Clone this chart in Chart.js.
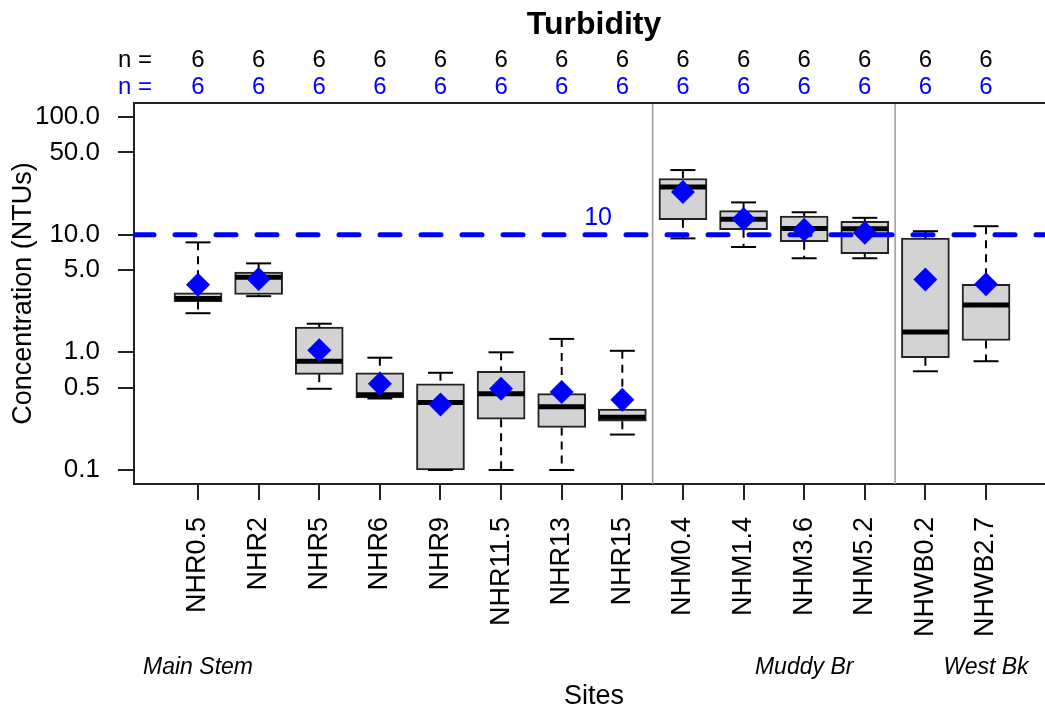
<!DOCTYPE html>
<html>
<head>
<meta charset="utf-8">
<script src="https://cdn.jsdelivr.net/npm/chart.js@4"></script>
<style>
  html, body { margin: 0; padding: 0; background: #fff; overflow: hidden; }
  #turbChart { display: block; }
</style>
</head>
<body>
<canvas id="turbChart" width="1045" height="711"></canvas>
<script>
// sites and the box statistics (NTU)
const sites = ['NHR0.5', 'NHR2', 'NHR5', 'NHR6', 'NHR9', 'NHR11.5', 'NHR13', 'NHR15',
               'NHM0.4', 'NHM1.4', 'NHM3.6', 'NHM5.2', 'NHWB0.2', 'NHWB2.7'];
const lowWhisker  = [2.15, 3.0, 0.49, 0.405, 0.1, 0.1, 0.1, 0.2, 9.3, 7.85, 6.3, 6.3, 0.69, 0.84];
const lowerQuart  = [2.70, 3.1, 0.65, 0.41, 0.1, 0.27, 0.23, 0.26, 13.4, 11.0, 8.7, 6.9, 0.90, 1.26];
const medians     = [2.86, 4.35, 0.84, 0.435, 0.375, 0.445, 0.345, 0.28, 25.4, 13.5, 11.3, 11.2, 1.49, 2.52];
const upperQuart  = [3.2, 4.8, 1.64, 0.67, 0.54, 0.69, 0.445, 0.33, 30.0, 16.0, 14.4, 13.0, 9.35, 3.78];
const highWhisker = [8.6, 5.7, 1.75, 0.90, 0.67, 1.0, 1.3, 1.03, 35.4, 18.8, 15.5, 13.9, 10.7, 11.8];
const means       = [3.75, 4.2, 1.04, 0.54, 0.36, 0.49, 0.46, 0.395, 23.0, 13.6, 11.0, 10.4, 4.15, 3.78];

const nTop    = [6, 6, 6, 6, 6, 6, 6, 6, 6, 6, 6, 6, 6, 6];
const nBottom = [6, 6, 6, 6, 6, 6, 6, 6, 6, 6, 6, 6, 6, 6];

const yTicks = [0.1, 0.5, 1, 5, 10, 50, 100];
const refValue = 10;
const dividers = [8.5, 12.5];
const groups = ['Main Stem', 'Muddy Br', 'West Bk'];
const groupPos = [1, 11, 14];

const FONT = "'Liberation Sans', Arial, sans-serif";
// the plot region runs a little past the right edge of the picture
const xMin = -0.056, xMax = 14.973, xCentre = 7.533;
const yMin = 0.076, yMax = 131.5;

// build datasets
var boxData = [], medData = [], meanData = [], capData = [], whiskData = [];
sites.forEach(function (s, i) {
  var x = i + 1;
  boxData.push({ x: x, y: [lowerQuart[i], upperQuart[i]] });
  medData.push({ x: x, y: medians[i] });
  meanData.push({ x: x, y: means[i] });
  capData.push({ x: x, y: lowWhisker[i] }, { x: x, y: highWhisker[i] });
  whiskData.push({ x: x, y: highWhisker[i] }, { x: x, y: upperQuart[i] }, { x: x, y: null },
                 { x: x, y: lowerQuart[i] }, { x: x, y: lowWhisker[i] }, { x: x, y: null });
});

const extras = {
  id: 'extras',
  beforeDatasetsDraw(chart) {
    const { ctx, chartArea: a, scales: { x } } = chart;
    ctx.save();
    ctx.strokeStyle = '#999';
    ctx.lineWidth = 1.5;
    dividers.forEach(function (v) {
      var px = x.getPixelForValue(v);
      ctx.beginPath();
      ctx.moveTo(px, a.top);
      ctx.lineTo(px, a.bottom);
      ctx.stroke();
    });
    ctx.restore();
  },
  afterDraw(chart) {
    const { ctx, chartArea: a, scales: { x, y } } = chart;
    ctx.save();
    // top edge of the frame (the right edge falls outside the picture)
    ctx.strokeStyle = '#222';
    ctx.lineWidth = 2;
    ctx.beginPath();
    ctx.moveTo(a.left, a.top);
    ctx.lineTo(a.right + 2, a.top);
    ctx.stroke();

    // title
    ctx.fillStyle = '#000';
    ctx.font = 'bold 32px ' + FONT;
    ctx.textAlign = 'center';
    ctx.textBaseline = 'alphabetic';
    ctx.fillText('Turbidity', x.getPixelForValue(xCentre), 34);

    // n = rows
    ctx.font = '24px ' + FONT;
    ctx.textAlign = 'left';
    ctx.fillStyle = '#000';
    ctx.fillText('n =', a.left - 16, 67);
    ctx.fillStyle = '#0000ff';
    ctx.fillText('n =', a.left - 16, 94);
    ctx.textAlign = 'center';
    sites.forEach(function (s, i) {
      var px = x.getPixelForValue(i + 1);
      ctx.fillStyle = '#000';
      ctx.fillText(String(nTop[i]), px, 67);
      ctx.fillStyle = '#0000ff';
      ctx.fillText(String(nBottom[i]), px, 94);
    });

    // reference value label
    ctx.fillStyle = '#0000ff';
    ctx.font = '25px ' + FONT;
    ctx.textBaseline = 'bottom';
    ctx.fillText(String(refValue), x.getPixelForValue(7.6), y.getPixelForValue(refValue) - 4);

    // group labels
    ctx.fillStyle = '#000';
    ctx.font = 'italic 23px ' + FONT;
    ctx.textBaseline = 'alphabetic';
    groups.forEach(function (g, i) {
      ctx.fillText(g, x.getPixelForValue(groupPos[i]), 674);
    });
    ctx.restore();
  }
};

new Chart(document.getElementById('turbChart'), {
  type: 'bar',
  data: {
    datasets: [{
      type: 'bar',
      data: boxData,
      backgroundColor: '#d3d3d3',
      borderColor: '#222',
      borderWidth: 2,
      borderSkipped: false,
      barThickness: 48,
      order: 5
    }, {
      type: 'line',
      data: whiskData,
      borderColor: '#000',
      borderWidth: 2,
      borderDash: [8, 6],
      pointRadius: 0,
      spanGaps: false,
      order: 6
    }, {
      type: 'scatter',
      data: capData,
      pointStyle: 'line',
      radius: 12.5,
      borderColor: '#000',
      borderWidth: 2,
      order: 4
    }, {
      type: 'scatter',
      data: medData,
      pointStyle: 'line',
      radius: 23,
      borderColor: '#000',
      borderWidth: 5,
      order: 3
    }, {
      type: 'line',
      data: [{ x: xMin, y: refValue }, { x: xMax, y: refValue }],
      borderColor: '#0000ff',
      borderWidth: 5,
      borderDash: [20, 21],
      borderCapStyle: 'round',
      pointRadius: 0,
      order: 2
    }, {
      type: 'scatter',
      data: meanData,
      pointStyle: 'rectRot',
      radius: 12,
      backgroundColor: '#0000ff',
      borderWidth: 0,
      order: 1
    }]
  },
  options: {
    responsive: false,
    animation: false,
    events: [],
    layout: { autoPadding: false, padding: { top: 103, right: 0, left: 0, bottom: 0 } },
    plugins: { legend: { display: false }, tooltip: { enabled: false } },
    scales: {
      x: {
        type: 'linear',
        offset: false,
        min: xMin,
        max: xMax,
        afterBuildTicks: function (scale) {
          scale.ticks = sites.map(function (s, i) { return { value: i + 1 }; });
        },
        afterFit: function (scale) {
          scale.height = 227;
          scale.paddingLeft = 0;
          scale.paddingRight = 0;
        },
        ticks: {
          autoSkip: false,
          minRotation: 90,
          maxRotation: 90,
          padding: 17,
          color: '#000',
          font: { family: FONT, size: 27 },
          callback: function (v) { return sites[Math.round(v) - 1]; }
        },
        grid: { display: true, offset: false, drawOnChartArea: false, drawTicks: true, tickLength: 16, color: '#222', lineWidth: 2 },
        border: { display: true, color: '#222', width: 2 },
        title: { display: false }
      },
      y: {
        type: 'logarithmic',
        min: yMin,
        max: yMax,
        afterBuildTicks: function (scale) {
          scale.ticks = yTicks.map(function (v) { return { value: v }; });
        },
        afterFit: function (scale) {
          scale.width = 134;
          scale.paddingTop = 0;
          scale.paddingBottom = 0;
        },
        ticks: {
          padding: 18,
          color: '#000',
          font: { family: FONT, size: 26 },
          callback: function (v) { return Number(v).toFixed(1); }
        },
        grid: { display: true, drawOnChartArea: false, drawTicks: true, tickLength: 16, color: '#222', lineWidth: 2 },
        border: { display: true, color: '#222', width: 2 },
        title: { display: true, text: 'Concentration (NTUs)', color: '#000', font: { family: FONT, size: 27 }, padding: { top: 7, bottom: 0 } }
      }
    }
  },
  plugins: [extras, {
    id: 'sitesTitle',
    afterDraw(chart) {
      const { ctx, scales: { x } } = chart;
      ctx.save();
      ctx.fillStyle = '#000';
      ctx.font = '27px ' + FONT;
      ctx.textAlign = 'center';
      ctx.textBaseline = 'middle';
      ctx.fillText('Sites', x.getPixelForValue(xCentre), 697);
      ctx.restore();
    }
  }]
});
</script>
</body>
</html>
